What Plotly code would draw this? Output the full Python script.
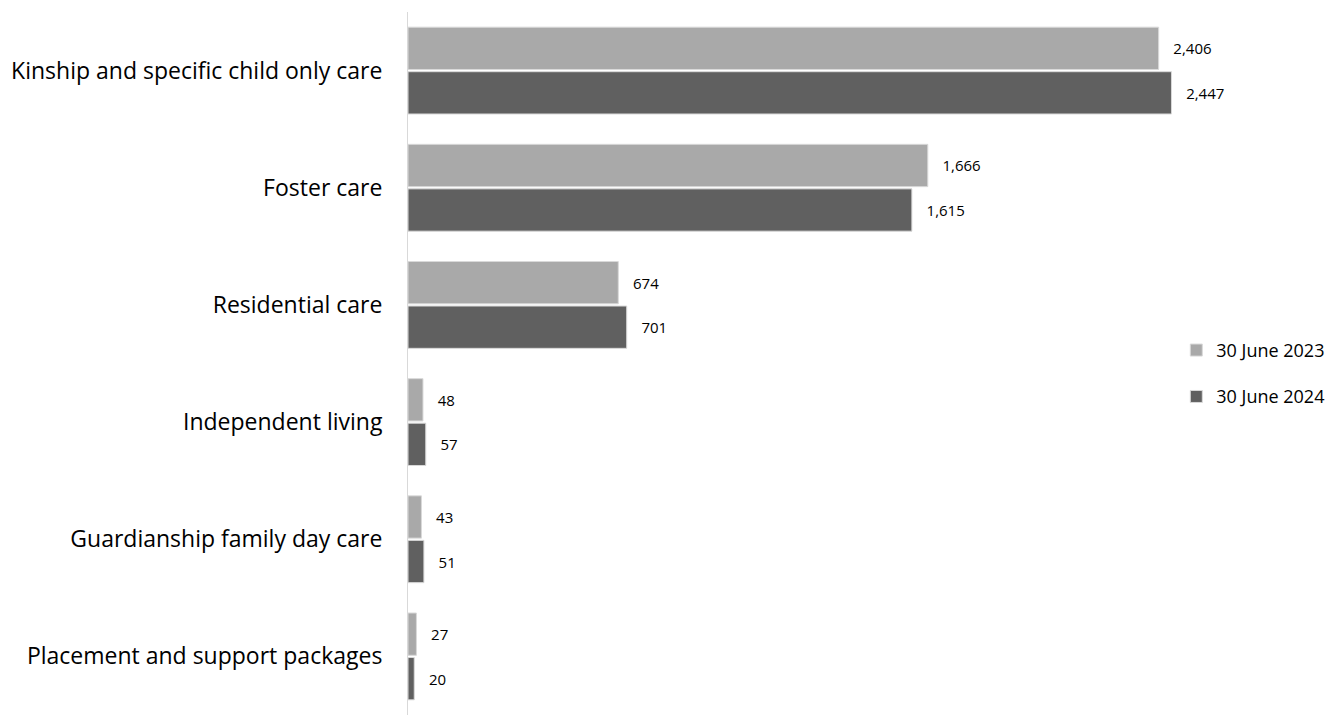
import plotly.graph_objects as go

categories = ["Kinship and specific child only care", "Foster care", "Residential care",
              "Independent living", "Guardianship family day care", "Placement and support packages"]
values_2023 = [2406, 1666, 674, 48, 43, 27]
values_2024 = [2447, 1615, 701, 57, 51, 20]
series_names = ["30 June 2023", "30 June 2024"]
colors = ["#A9A9A9", "#606060"]

FONT = "Open Sans"
fig = go.Figure()
for name, vals, col in zip(series_names, [values_2023, values_2024], colors):
    fig.add_trace(go.Bar(
        y=categories, x=vals, name=name, orientation="h",
        marker=dict(color=col, line=dict(color="#D9D9D9", width=1)),
        legendgroup=name,
        text=["\u00a0\u00a0\u00a0" + f"{v:,}" for v in vals], textposition="outside",
        textfont=dict(size=15, color="black", family=FONT),
        cliponaxis=False,
    ))

fig.update_layout(
    width=1341, height=720,
    margin=dict(l=408, r=153, t=12, b=5),
    paper_bgcolor="white", plot_bgcolor="white",
    barmode="group", bargap=0.24, bargroupgap=0.05,
    font=dict(family=FONT, color="black"),
    uniformtext=dict(minsize=15, mode="show"),
    xaxis=dict(range=[0, 2500], visible=False, showgrid=False, zeroline=False),
    yaxis=dict(autorange="reversed", showline=True, linecolor="#D9D9D9", linewidth=1,
               ticks="", tickfont=dict(size=23, family=FONT), ticklabelstandoff=20,
               showgrid=False),
    legend=dict(x=0.985, y=0.545, xanchor="left", yanchor="top",
                font=dict(size=18, family=FONT), traceorder="grouped",
                tracegroupgap=20, itemwidth=30),
)
fig.write_html("out.html")
